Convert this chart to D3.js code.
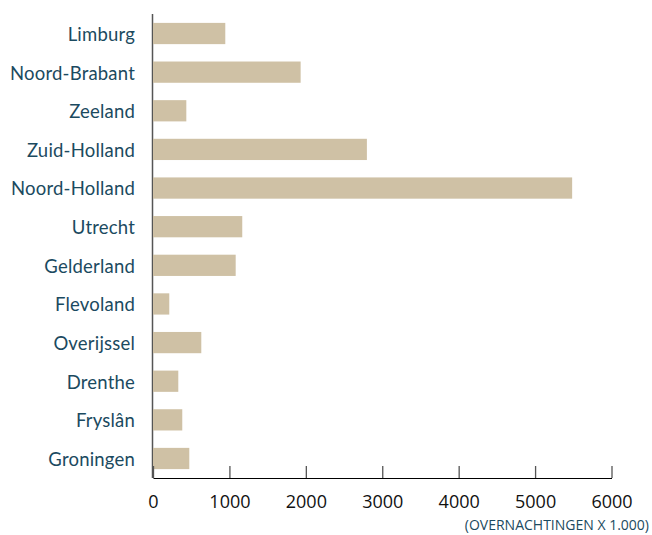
<!DOCTYPE html>
<html>
<head>
<meta charset="utf-8">
<script src="https://cdn.jsdelivr.net/npm/d3@7"></script>
<style>
  body { margin: 0; background: #fff; }
  svg { display: block; }
</style>
</head>
<body>
<svg id="chart" width="652" height="535"></svg>
<script>

// provinces, top to bottom
let provinces = ['Limburg', 'Noord-Brabant', 'Zeeland', 'Zuid-Holland', 'Noord-Holland',
                 'Utrecht', 'Gelderland', 'Flevoland', 'Overijssel', 'Drenthe', 'Fryslân', 'Groningen'];

// overnachtingen x 1.000
let stays = [946, 1932, 436, 2799, 5485, 1168, 1082, 213, 632, 331, 383, 475];

let x_ticks = [0, 1000, 2000, 3000, 4000, 5000, 6000];

let unit_note = '(OVERNACHTINGEN X 1.000)';


let svg = d3.select('#chart'),
    plot_left = 153,
    plot_right = 611.5,
    plot_top = 14,
    plot_bottom = 478;

let teal = '#1b4a60',
    sand = '#cfc1a5';

let x = d3.scaleLinear()
    .domain([0, 6000])
    .range([plot_left, plot_right]);

let y = d3.scaleBand()
    .domain(provinces)
    .range([plot_top, plot_bottom])
    .paddingInner(0.45)
    .paddingOuter(0.23);

// bars
svg.append('g')
    .selectAll('rect')
    .data(provinces)
    .enter()
    .append('rect')
    .attr('x', x(0))
    .attr('y', d => y(d))
    .attr('width', (d, i) => x(stays[i]) - x(0))
    .attr('height', y.bandwidth())
    .attr('fill', sand);

// left axis line, bars sit on top of it
svg.insert('line', 'g')
    .attr('x1', plot_left - 0.5)
    .attr('x2', plot_left - 0.5)
    .attr('y1', plot_top)
    .attr('y2', plot_bottom)
    .attr('stroke', '#555')
    .attr('stroke-width', 1.5);

// province labels
svg.append('g')
    .selectAll('text')
    .data(provinces)
    .enter()
    .append('text')
    .attr('x', 135)
    .attr('y', d => y(d) + y.bandwidth() / 2)
    .attr('dy', '0.4em')
    .attr('text-anchor', 'end')
    .attr('fill', teal)
    .style('font-family', 'Lato, sans-serif')
    .style('font-size', '18.5px')
    .style('letter-spacing', '0.2px')
    .text(d => d);

// bottom axis
let x_axis = d3.axisBottom(x)
    .tickValues(x_ticks)
    .tickSize(0)
    .tickPadding(17)
    .tickFormat(d3.format('d'));

let ax = svg.append('g')
    .attr('transform', 'translate(0,' + plot_bottom + ')')
    .call(x_axis);

ax.select('.domain')
    .attr('stroke', '#000')
    .attr('stroke-width', 1.2);

ax.selectAll('.tick')
    .append('line')
    .attr('y1', -12)
    .attr('y2', 0)
    .attr('stroke', '#555')
    .attr('stroke-width', 1.3);

ax.selectAll('.tick text')
    .attr('fill', '#111')
    .style('font-family', '"Open Sans", sans-serif')
    .style('font-size', '18px');

// unit note
svg.append('text')
    .attr('x', 649)
    .attr('y', 530)
    .attr('text-anchor', 'end')
    .attr('fill', teal)
    .style('font-family', '"Open Sans", sans-serif')
    .style('font-size', '14px')
    .text(unit_note);

</script>
</body>
</html>
